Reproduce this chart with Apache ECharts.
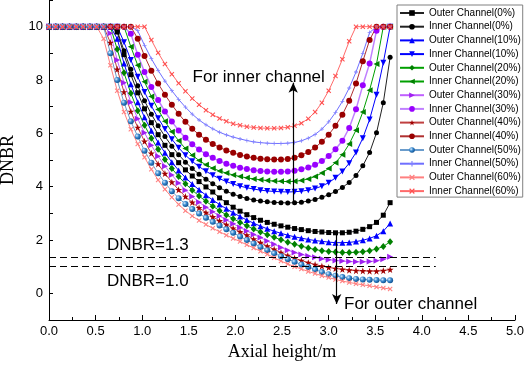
<!DOCTYPE html>
<html>
<head>
<meta charset="utf-8">
<script src="https://cdn.jsdelivr.net/npm/echarts@6.0.0/dist/echarts.min.js"></script>
<style>
  html, body { margin: 0; padding: 0; background: #fff; }
  #chart { width: 526px; height: 372px; }
</style>
</head>
<body>
<div id="chart"></div>
<script>
// axial positions (m) shared by every curve
const axialHeight = [
  0, 0.073, 0.146, 0.220, 0.293, 0.366, 0.439, 0.512, 0.586, 0.659,
  0.732, 0.805, 0.878, 0.952, 1.025, 1.098, 1.171, 1.244, 1.318, 1.391,
  1.464, 1.537, 1.610, 1.684, 1.757, 1.830, 1.903, 1.976, 2.050, 2.123,
  2.196, 2.269, 2.342, 2.416, 2.489, 2.562, 2.635, 2.708, 2.782, 2.855,
  2.928, 3.001, 3.074, 3.148, 3.221, 3.294, 3.367, 3.440, 3.514, 3.587, 3.660
];

const outer0 = [
  10, 10, 10, 10, 10, 10, 10, 10, 10, 10,
  9.8, 8.95, 8.2, 7.52, 6.92, 6.4, 5.95, 5.55, 5.2, 4.9,
  4.63, 4.4, 4.19, 3.99, 3.8, 3.58, 3.4, 3.23, 3.08, 2.95,
  2.84, 2.74, 2.66, 2.59, 2.53, 2.48, 2.43, 2.39, 2.35, 2.32,
  2.3, 2.28, 2.27, 2.27, 2.29, 2.33, 2.4, 2.5, 2.66, 2.93, 3.4
];
const inner0 = [
  10, 10, 10, 10, 10, 10, 10, 10, 10, 10,
  9.85, 9.1, 8.4, 7.78, 7.22, 6.72, 6.28, 5.88, 5.52, 5.2,
  4.92, 4.68, 4.47, 4.28, 4.11, 3.96, 3.83, 3.72, 3.63, 3.56,
  3.5, 3.46, 3.43, 3.41, 3.4, 3.39, 3.4, 3.42, 3.46, 3.52,
  3.6, 3.7, 3.82, 3.97, 4.16, 4.42, 4.78, 5.28, 6.02, 7.15, 8.85
];
const outer10 = [
  10, 10, 10, 10, 10, 10, 10, 10, 10, 10,
  9.55, 8.62, 7.84, 7.17, 6.6, 6.1, 5.66, 5.27, 4.92, 4.61,
  4.34, 4.1, 3.88, 3.68, 3.5, 3.33, 3.17, 3.02, 2.88, 2.75,
  2.63, 2.52, 2.42, 2.33, 2.25, 2.18, 2.12, 2.07, 2.02, 1.98,
  1.95, 1.92, 1.9, 1.9, 1.91, 1.94, 1.99, 2.06, 2.16, 2.33, 2.62
];
const inner10 = [
  10, 10, 10, 10, 10, 10, 10, 10, 10, 10,
  10, 9.42, 8.75, 8.12, 7.55, 7.03, 6.57, 6.16, 5.78, 5.46,
  5.18, 4.95, 4.75, 4.58, 4.43, 4.3, 4.19, 4.1, 4.02, 3.96,
  3.91, 3.87, 3.84, 3.82, 3.81, 3.8, 3.81, 3.83, 3.87, 3.93,
  4.02, 4.15, 4.33, 4.57, 4.88, 5.28, 5.82, 6.52, 7.45, 8.65, 10
];
const outer20 = [
  10, 10, 10, 10, 10, 10, 10, 10, 10, 10,
  9.15, 8.27, 7.5, 6.85, 6.3, 5.82, 5.4, 5.02, 4.68, 4.38,
  4.11, 3.87, 3.65, 3.45, 3.27, 3.1, 2.94, 2.8, 2.66, 2.53,
  2.41, 2.3, 2.2, 2.1, 2.01, 1.92, 1.84, 1.77, 1.7, 1.64,
  1.6, 1.57, 1.55, 1.53, 1.53, 1.54, 1.56, 1.6, 1.66, 1.76, 1.93
];
const inner20 = [
  10, 10, 10, 10, 10, 10, 10, 10, 10, 10,
  10, 10, 9.25, 8.55, 7.93, 7.38, 6.89, 6.45, 6.06, 5.72,
  5.43, 5.18, 4.98, 4.82, 4.69, 4.59, 4.51, 4.44, 4.38, 4.33,
  4.29, 4.26, 4.23, 4.21, 4.2, 4.19, 4.2, 4.23, 4.29, 4.38,
  4.51, 4.68, 4.9, 5.2, 5.6, 6.12, 6.8, 7.62, 8.6, 10, 10
];
const outer30 = [
  10, 10, 10, 10, 10, 10, 10, 10, 10, 9.75,
  8.75, 7.9, 7.17, 6.55, 6.02, 5.55, 5.14, 4.77, 4.44, 4.14,
  3.87, 3.63, 3.42, 3.23, 3.06, 2.9, 2.75, 2.61, 2.47, 2.34,
  2.21, 2.09, 1.96, 1.84, 1.72, 1.62, 1.53, 1.46, 1.4, 1.35,
  1.3, 1.26, 1.23, 1.21, 1.19, 1.18, 1.18, 1.19, 1.22, 1.28, 1.37
];
const inner30 = [
  10, 10, 10, 10, 10, 10, 10, 10, 10, 10,
  10, 10, 9.73, 8.95, 8.3, 7.74, 7.25, 6.82, 6.44, 6.11,
  5.83, 5.59, 5.39, 5.22, 5.08, 4.96, 4.86, 4.78, 4.71, 4.66,
  4.62, 4.59, 4.57, 4.56, 4.56, 4.57, 4.6, 4.65, 4.72, 4.82,
  4.96, 5.15, 5.4, 5.72, 6.2, 6.9, 7.8, 8.62, 9.85, 10, 10
];
const outer40 = [
  10, 10, 10, 10, 10, 10, 10, 10, 10, 9.4,
  8.4, 7.55, 6.82, 6.22, 5.7, 5.25, 4.85, 4.49, 4.17, 3.88,
  3.63, 3.41, 3.21, 3.03, 2.87, 2.72, 2.58, 2.44, 2.31, 2.18,
  2.03, 1.9, 1.77, 1.65, 1.53, 1.42, 1.32, 1.23, 1.15, 1.08,
  1.02, 0.97, 0.93, 0.9, 0.87, 0.85, 0.84, 0.83, 0.83, 0.85, 0.89
];
const inner40 = [
  10, 10, 10, 10, 10, 10, 10, 10, 10, 10,
  10, 10, 10, 9.55, 8.9, 8.35, 7.87, 7.45, 7.07, 6.73,
  6.43, 6.17, 5.95, 5.76, 5.6, 5.47, 5.36, 5.27, 5.19, 5.13,
  5.08, 5.05, 5.03, 5.02, 5.02, 5.04, 5.08, 5.18, 5.3, 5.47,
  5.68, 5.95, 6.28, 6.7, 7.22, 7.87, 8.7, 9.5, 10, 10, 10
];
const outer50 = [
  10, 10, 10, 10, 10, 10, 10, 10, 10, 9.0,
  8.0, 7.15, 6.45, 5.88, 5.35, 4.9, 4.5, 4.15, 3.83, 3.57,
  3.35, 3.16, 2.99, 2.83, 2.68, 2.54, 2.4, 2.27, 2.13, 2.0,
  1.87, 1.74, 1.62, 1.5, 1.39, 1.28, 1.18, 1.08, 0.99, 0.89,
  0.8, 0.72, 0.66, 0.61, 0.57, 0.54, 0.52, 0.51, 0.5, 0.49, 0.49
];
const inner50 = [
  10, 10, 10, 10, 10, 10, 10, 10, 10, 10,
  10, 10, 10, 9.85, 9.3, 8.8, 8.36, 7.96, 7.6, 7.27,
  6.98, 6.72, 6.5, 6.32, 6.17, 6.04, 5.94, 5.86, 5.79, 5.73,
  5.68, 5.65, 5.63, 5.62, 5.62, 5.63, 5.66, 5.72, 5.82, 5.96,
  6.16, 6.43, 6.78, 7.2, 7.7, 8.3, 9.0, 9.78, 10, 10, 10
];
const outer60 = [
  10, 10, 10, 10, 10, 10, 10, 10, 9.55, 8.55,
  7.6, 6.8, 6.15, 5.6, 5.1, 4.65, 4.25, 3.9, 3.6, 3.33,
  3.1, 2.9, 2.73, 2.58, 2.44, 2.31, 2.18, 2.06, 1.94, 1.82,
  1.7, 1.58, 1.47, 1.33, 1.21, 1.1, 1.0, 0.91, 0.82, 0.74,
  0.66, 0.59, 0.52, 0.46, 0.41, 0.36, 0.32, 0.28, 0.24, 0.2, 0.16
];
const inner60 = [
  10, 10, 10, 10, 10, 10, 10, 10, 10, 10,
  10, 10, 10, 10, 10, 9.5, 9.02, 8.6, 8.22, 7.88,
  7.58, 7.31, 7.07, 6.87, 6.7, 6.56, 6.45, 6.36, 6.3, 6.25,
  6.22, 6.2, 6.19, 6.19, 6.2, 6.23, 6.28, 6.38, 6.55, 6.8,
  7.15, 7.6, 8.15, 8.78, 9.45, 10, 10, 10, 10, 10, 10
];

const seriesNames = [
  'Outer Channel(0%)', 'Inner Channel(0%)', 'Outer Channel(10%)', 'Inner Channel(10%)',
  'Outer Channel(20%)', 'Inner Channel(20%)', 'Outer Channel(30%)', 'Inner Channel(30%)',
  'Outer Channel(40%)', 'Inner Channel(40%)', 'Outer Channel(50%)', 'Inner Channel(50%)',
  'Outer Channel(60%)', 'Inner Channel(60%)'
];
const seriesValues = [
  outer0, inner0, outer10, inner10, outer20, inner20, outer30, inner30,
  outer40, inner40, outer50, inner50, outer60, inner60
];

// reference limits and annotation anchors (data units)
const dnbrLimits = [1.36, 1.02];
const limitLineEnd = 4.15;
const innerArrow = [[2.62, 3.41], [2.62, 7.9]];
const outerArrow = [[3.087, 2.31], [3.087, -0.4]];
const notes = [
  { name: 'For inner channel', coord: [2.25, 8.1] },
  { name: 'For outer channel', coord: [3.88, -0.42] },
  { name: 'DNBR=1.3', coord: [1.06, 1.81] },
  { name: 'DNBR=1.0', coord: [1.06, 0.46] }
];

const STAR = 'path://M50 0L61.8 35.3H99L68.9 57.1L80.4 92.4L50 70.6L19.6 92.4L31.1 57.1L1 35.3H38.2Z';
const CROSS = 'path://M0 1.5L1.5 0L5 3.5L8.5 0L10 1.5L6.5 5L10 8.5L8.5 10L5 6.5L1.5 10L0 8.5L3.5 5Z';
const PLUS = 'path://M4 0H6V4H10V6H6V10H4V6H0V4H4Z';

const sphere = new echarts.graphic.RadialGradient(0.35, 0.35, 0.7, [
  { offset: 0, color: '#dcefff' },
  { offset: 0.45, color: '#3b8bd0' },
  { offset: 1, color: '#0b4c8c' }
]);

const styles = [
  { symbol: 'rect', size: 5, color: '#000', line: '#222' },
  { symbol: 'circle', size: 5, color: '#000', line: '#222' },
  { symbol: 'triangle', size: 6, color: '#0000ff', line: '#0000ff' },
  { symbol: 'triangle', size: 6, rotate: 180, color: '#0000ff', line: '#0000ff' },
  { symbol: 'diamond', size: [6, 7], color: '#008000', line: '#00a000' },
  { symbol: 'triangle', size: 6, rotate: 90, color: '#008000', line: '#00a000' },
  { symbol: 'triangle', size: 6, rotate: -90, color: '#a020f0', line: '#c060ff' },
  { symbol: 'circle', size: 6, color: '#9900ff', line: '#c080ff', width: 1.5 },
  { symbol: STAR, size: 7, color: '#a00000', line: '#c04040' },
  { symbol: 'circle', size: 6, color: '#990000', line: '#b03030' },
  { symbol: 'circle', size: 6, color: sphere, line: '#6a9ccc' },
  { symbol: PLUS, size: 4, color: '#8080ff', line: '#6f6fff' },
  { symbol: CROSS, size: 5, color: '#ff8080', line: '#ff8080' },
  { symbol: CROSS, size: 5, color: '#ff5050', line: '#ff6a6a' }
];

const chart = echarts.init(document.getElementById('chart'));

const series = seriesNames.map((name, k) => {
  const st = styles[k];
  return {
    name,
    type: 'line',
    data: seriesValues[k].map((v, i) => [axialHeight[i], v]),
    symbol: st.symbol,
    symbolSize: st.size,
    symbolRotate: st.rotate || 0,
    showAllSymbol: true,
    itemStyle: { color: st.color },
    lineStyle: { color: st.line, width: st.width || 1 },
    emphasis: { disabled: true }
  };
});

series.push({
  name: 'limits',
  type: 'line',
  data: [],
  silent: true,
  markLine: {
    silent: true,
    symbol: ['none', 'none'],
    label: { show: false },
    lineStyle: { color: '#000', width: 1, type: [7, 4] },
    data: dnbrLimits.map(v => [{ coord: [0, v] }, { coord: [limitLineEnd, v] }])
  },
  markPoint: {
    silent: true,
    symbol: 'circle',
    symbolSize: 1,
    itemStyle: { color: 'rgba(0,0,0,0)' },
    label: {
      show: true, position: 'inside', color: '#000',
      fontSize: 17, fontFamily: 'Liberation Sans',
      formatter: p => p.name
    },
    data: notes
  }
});

series.push({
  name: 'arrows',
  type: 'line',
  data: [],
  silent: true,
  markLine: {
    silent: true,
    symbol: ['none', 'arrow'],
    symbolSize: [7, 10],
    label: { show: false },
    lineStyle: { color: '#000', width: 1.2, type: 'solid' },
    data: [
      [{ coord: innerArrow[0] }, { coord: innerArrow[1] }],
      [{ coord: outerArrow[0] }, { coord: outerArrow[1] }]
    ]
  }
});

const axisFont = { color: '#000', fontSize: 13, fontFamily: 'Liberation Sans' };
const nameFont = { color: '#000', fontSize: 18, fontFamily: 'Liberation Serif' };

chart.setOption({
  animation: false,
  backgroundColor: '#fff',
  grid: { left: 49, right: 11, top: 0, bottom: 52, containLabel: false, outerBoundsMode: 'none' },
  legend: {
    orient: 'vertical',
    left: 397,
    top: 5,
    padding: [3, 2, 1, 2],
    itemGap: 3.7,
    itemWidth: 24,
    itemHeight: 7,
    borderColor: '#808080',
    borderWidth: 1,
    backgroundColor: '#fff',
    textStyle: { color: '#000', fontSize: 10, lineHeight: 10, fontFamily: 'Liberation Sans' },
    data: seriesNames
  },
  xAxis: {
    type: 'value',
    min: 0,
    max: 5,
    interval: 0.5,
    name: 'Axial height/m',
    nameLocation: 'middle',
    nameGap: 23,
    nameTextStyle: nameFont,
    axisLine: { show: true, onZero: false, lineStyle: { color: '#000', width: 1 } },
    axisTick: { show: true, inside: true, length: 5, lineStyle: { color: '#000' } },
    minorTick: { show: true, splitNumber: 2, length: 3, lineStyle: { color: '#000' } },
    splitLine: { show: false },
    axisLabel: Object.assign({ margin: 5, formatter: v => v.toFixed(1) }, axisFont)
  },
  yAxis: {
    type: 'value',
    min: -1,
    max: 11,
    interval: 1,
    name: 'DNBR',
    nameLocation: 'middle',
    nameGap: 31,
    nameRotate: 90,
    nameTextStyle: nameFont,
    axisLine: { show: true, onZero: false, lineStyle: { color: '#000', width: 1 } },
    axisTick: { show: true, inside: true, length: 4, lineStyle: { color: '#000' } },
    splitLine: { show: false },
    axisLabel: Object.assign({
      margin: 6,
      formatter: v => (v >= 0 && v <= 10 && v % 2 === 0) ? String(v) : ''
    }, axisFont)
  },
  series
});
</script>
</body>
</html>
